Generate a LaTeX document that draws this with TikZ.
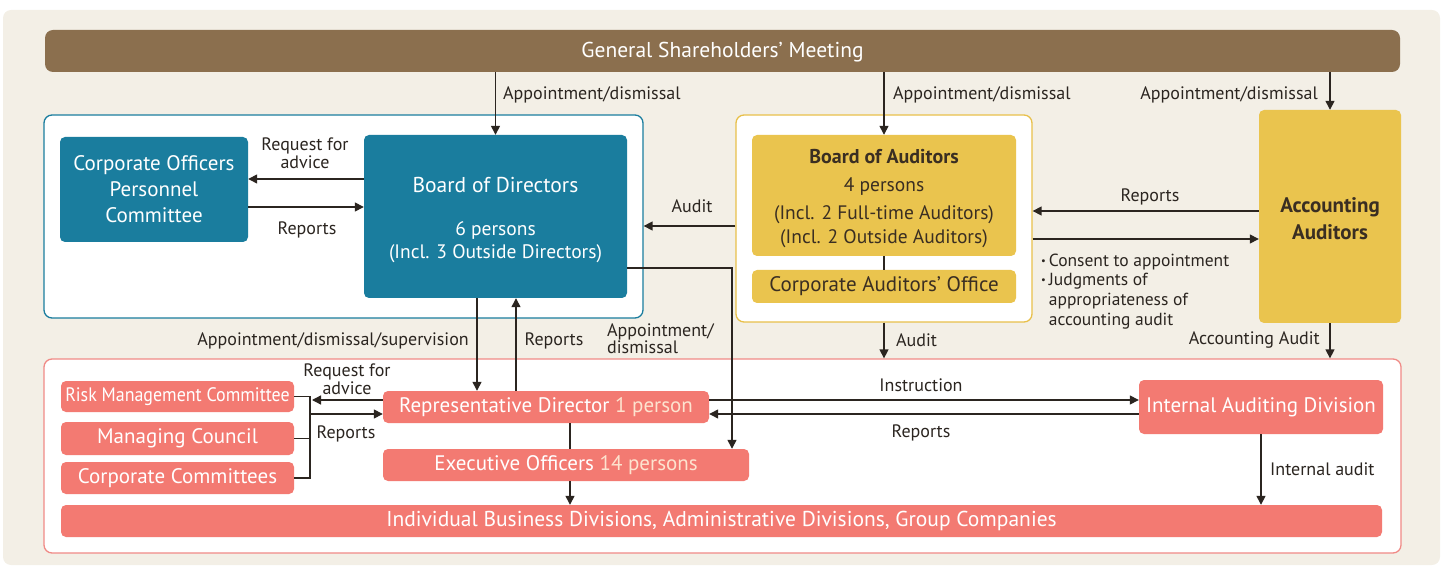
\documentclass[tikz,border=0pt]{standalone}
\usepackage{fontspec}
\setmainfont{PT Sans}
\usetikzlibrary{arrows.meta,calc}
\definecolor{bg}{HTML}{F3EFE6}
\definecolor{brown}{HTML}{8B6F4E}
\definecolor{teal}{HTML}{1A7D9E}
\definecolor{gold}{HTML}{EAC44E}
\definecolor{goldline}{HTML}{E8C04A}
\definecolor{salmon}{HTML}{F37A72}
\definecolor{redline}{HTML}{F08A86}
\definecolor{ink}{HTML}{2B2520}
\definecolor{pale}{HTML}{FDE3CF}
\definecolor{darktext}{HTML}{3A2E22}
\newcommand{\fs}[1]{\fontsize{#1}{#1}\selectfont}
\tikzset{
  arr/.style={draw=ink, line width=1.4pt, -{Triangle[length=9pt,width=9pt]}},
  ln/.style={draw=ink, line width=1.4pt},
  lbl/.style={text=ink, font=\fs{18}, inner sep=0pt, yshift=-1.5pt},
  bluebox/.style={fill=teal, text=white, rounded corners=5pt, inner sep=0pt, align=center},
  goldbox/.style={fill=gold, text=darktext, rounded corners=5pt, inner sep=0pt, align=center},
  redbox/.style={fill=salmon, text=white, rounded corners=5pt, inner sep=0pt, align=center},
  frame/.style={fill=white, rounded corners=8pt, line width=1.3pt, inner sep=0pt},
}
\begin{document}
\begin{tikzpicture}[x=1pt,y=-1pt]
\useasboundingbox (0,0) rectangle (1446,569);
\fill[bg, rounded corners=8pt] (3,10) rectangle (1440,565);
% GSM
\node[fill=brown, text=white, rounded corners=8pt, minimum width=1355pt, minimum height=42pt, inner sep=0pt, font=\fs{21.5}] (gsm) at (722.5,51) {\rule{0pt}{18pt}General Shareholders' Meeting};
% frames
\node[frame, draw=teal, minimum width=599pt, minimum height=203pt] (dirbox) at (343.5,216.5) {};
\node[frame, draw=goldline, minimum width=296pt, minimum height=207pt] (audbox) at (884,218.5) {};
\node[frame, draw=redline, minimum width=1357pt, minimum height=194pt] (redframe) at (722.5,456) {};
% blue boxes
\node[bluebox, minimum width=188pt, minimum height=105pt, font=\fs{21}] (copc) at (154,189.5) {Corporate Officers\\[5pt]Personnel\\[5pt]Committee};
\node[bluebox, minimum width=263pt, minimum height=163pt] (bod) at (495.5,216.5) {{\fs{21.5}\rule{0pt}{23pt}Board of Directors}\\[27pt]{\fs{19.5}6 persons}\\[5pt]{\fs{19.5}(Incl. 3 Outside Directors)}};
% gold boxes
\node[goldbox, minimum width=264pt, minimum height=121pt] (boa) at (884,195.5) {{\fs{20}\bfseries\rule{0pt}{20pt}Board of Auditors}\\[13pt]{\fs{19.5}4 persons}\\[9pt]{\fs{19.5}(Incl. 2 Full-time Auditors)}\\[5pt]{\fs{19.5}(Incl. 2 Outside Auditors)}};
\node[goldbox, minimum width=264pt, minimum height=33pt, font=\fs{21}] (cao) at (884,286.5) {Corporate Auditors' Office};
\node[goldbox, minimum width=142pt, minimum height=213pt, font=\fs{21}\bfseries] (aa) at (1330,216.5) {\rule{0pt}{19pt}Accounting\\[6pt]Auditors};
% red boxes
\node[redbox, minimum width=233pt, minimum height=31pt, font=\fs{19.5}] (risk) at (177.5,396.5) {\scalebox{0.92}[1]{Risk Management Committee}};
\node[redbox, minimum width=233pt, minimum height=33pt, font=\fs{21}] (mc) at (177.5,438.5) {Managing Council};
\node[redbox, minimum width=233pt, minimum height=32pt, font=\fs{21}] (cc) at (177.5,478) {Corporate Committees};
\node[redbox, minimum width=326pt, minimum height=32pt, font=\fs{21}] (rep) at (546,407) {Representative Director \textcolor{pale}{1 person}};
\node[redbox, minimum width=366pt, minimum height=32pt, font=\fs{21}] (eo) at (566,465) {Executive Officers \textcolor{pale}{14 persons}};
\node[redbox, minimum width=244pt, minimum height=54pt, font=\fs{21}] (iad) at (1261,407) {Internal Auditing Division};
\node[redbox, minimum width=1321pt, minimum height=32pt, font=\fs{21.5}] (ibd) at (721.5,521) {Individual Business Divisions, Administrative Divisions, Group Companies};
% connectors from GSM
\draw[arr] (gsm.south -| bod.north) -- (bod.north);
\draw[arr] (gsm.south -| boa.north) -- (boa.north);
\draw[arr] (gsm.south -| aa.north) -- (aa.north);
\node[lbl, anchor=west] at (503,93) {Appointment/dismissal};
\node[lbl, anchor=west] at (893,93) {Appointment/dismissal};
\node[lbl, anchor=east] at (1318,93) {Appointment/dismissal};
% COPC <-> BoD
\draw[arr] (bod.west |- 0,179) -- (copc.east |- 0,179);
\draw[arr] (copc.east |- 0,207) -- (bod.west |- 0,207);
\node[lbl, align=center] at (305,152) {Request for\\[0pt]advice};
\node[lbl] at (307,228) {Reports};
% auditors
\draw[arr] (audbox.west |- 0,226) -- (dirbox.east |- 0,226);
\node[lbl] at (692,205) {Audit};
\draw[arr] (aa.west |- 0,211) -- (audbox.east |- 0,211);
\node[lbl] at (1150,195) {Reports};
\draw[arr] (audbox.east |- 0,239) -- (aa.west |- 0,239);
\node[lbl, anchor=north west, align=left, font=\fs{17.5}] at (1041,252) {\def\arraystretch{1.0}\begin{tabular}{@{}l@{\,}l@{}}\raisebox{2pt}{\scalebox{0.6}{•}} & Consent to appointment\\[2pt] \raisebox{2pt}{\scalebox{0.6}{•}} & Judgments of\\[2pt] & appropriateness of\\[2pt] & accounting audit\end{tabular}};
\draw[ln] (boa.south) -- (cao.north);
\draw[arr] (audbox.south) -- (redframe.north -| audbox.south);
\node[lbl, anchor=west] at (896,339) {Audit};
\draw[arr] (aa.south) -- (redframe.north -| aa.south);
\node[lbl, anchor=east] at (1320,339) {Accounting Audit};
% BoD <-> RepDir
\draw[arr] (bod.south -| 477,0) -- (rep.north -| 477,0);
\node[lbl, anchor=east] at (469,339) {Appointment/dismissal/supervision};
\draw[arr] (rep.north -| 516,0) -- (bod.south -| 516,0);
\node[lbl] at (554,339) {Reports};
\draw[arr] (bod.east |- 0,268) -| (eo.north -| 732,0);
\node[lbl, anchor=west, align=left] at (607,337) {Appointment/\\[-1pt]dismissal};
% RepDir <-> committees
\draw[ln] (risk.east) -- (310,396.5) -- (310,478) -- (cc.east);
\draw[ln] (mc.east) -- (310,438.5);
\draw[arr] (rep.west |- 0,400) -- (312,400);
\draw[arr] (310,414) -- (rep.west |- 0,414);
\node[lbl, align=center] at (347,378) {Request for\\[0pt]advice};
\node[lbl] at (346,432) {Reports};
% RepDir <-> IAD
\draw[arr] (rep.east |- 0,400) -- (iad.west |- 0,400);
\draw[arr] (iad.west |- 0,414) -- (rep.east |- 0,414);
\node[lbl] at (921,384) {Instruction};
\node[lbl] at (921,431) {Reports};
% down
\draw[ln] (rep.south -| 570,0) -- (eo.north -| 570,0);
\draw[arr] (eo.south -| 570,0) -- (ibd.north -| 570,0);
\draw[arr] (iad.south) -- (ibd.north -| iad.south);
\node[lbl, anchor=west] at (1270,468) {Internal audit};
\end{tikzpicture}
\end{document}
